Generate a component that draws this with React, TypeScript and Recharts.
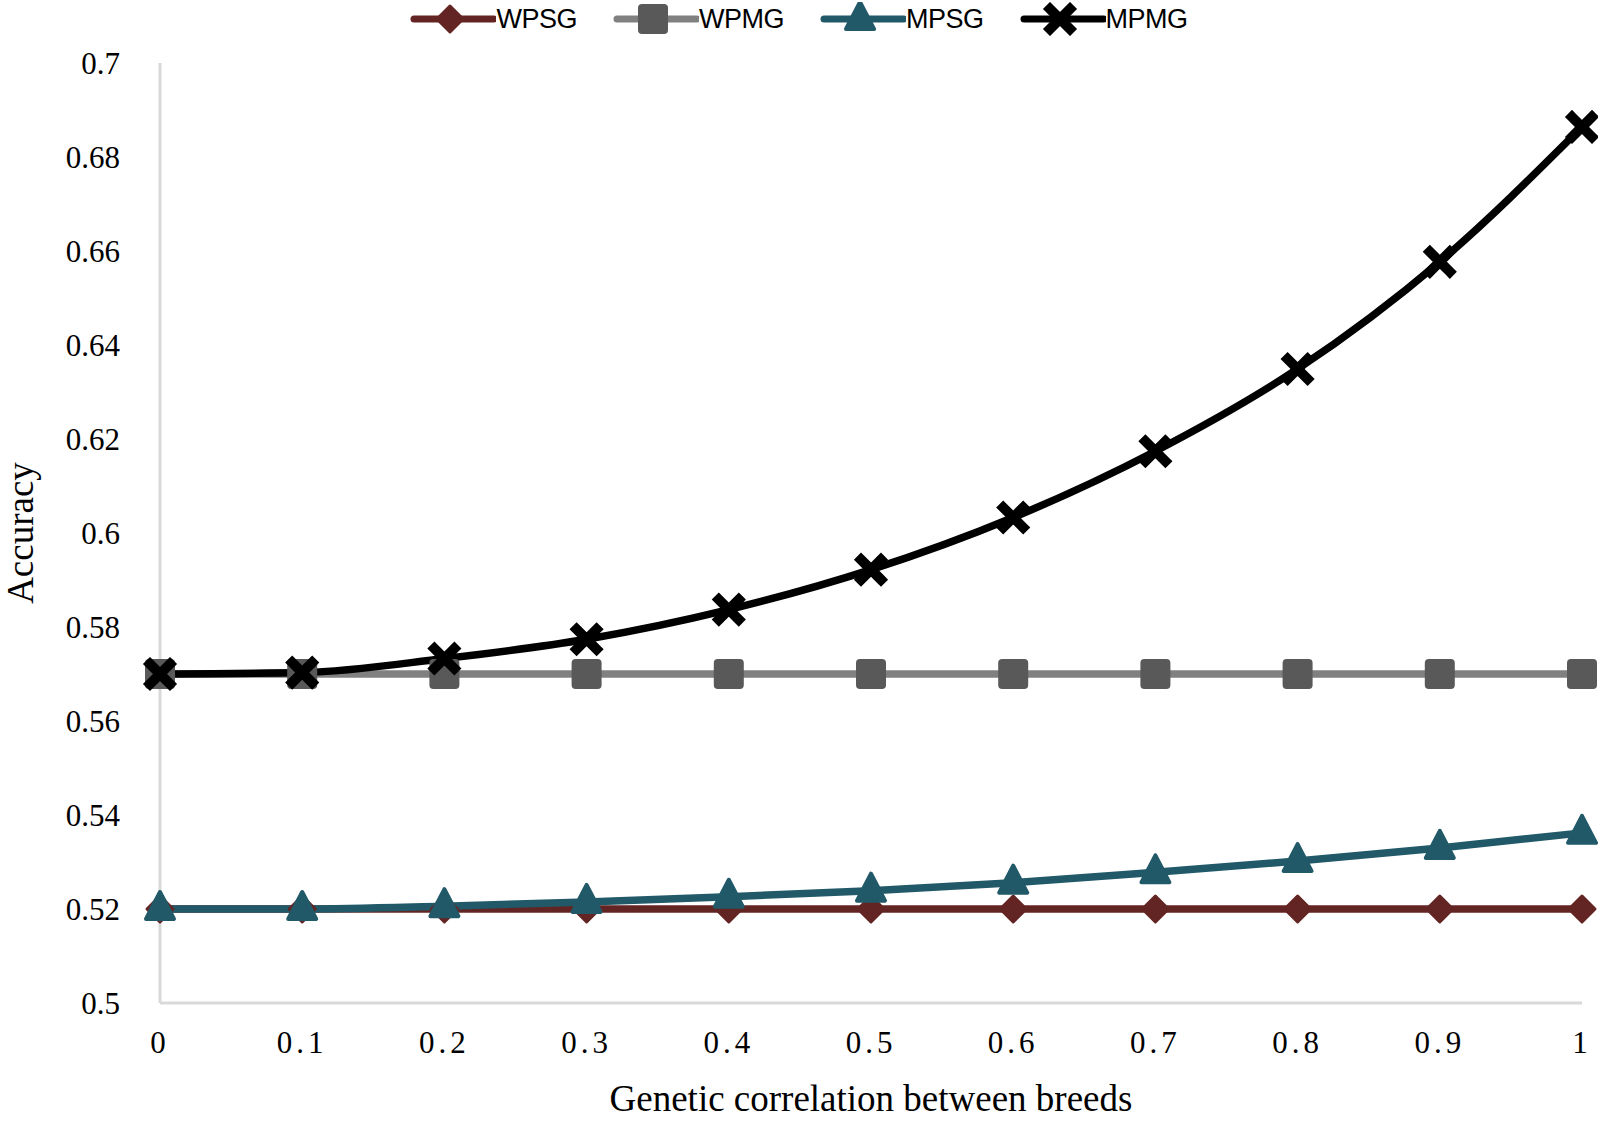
import React from 'react';
import { LineChart, Line, XAxis, YAxis, Legend } from 'recharts';

const correlation = [0, 0.1, 0.2, 0.3, 0.4, 0.5, 0.6, 0.7, 0.8, 0.9, 1];
const wpsg = [0.52, 0.52, 0.52, 0.52, 0.52, 0.52, 0.52, 0.52, 0.52, 0.52, 0.52];
const wpmg = [0.57, 0.57, 0.57, 0.57, 0.57, 0.57, 0.57, 0.57, 0.57, 0.57, 0.57];
const mpsg = [0.52, 0.52, 0.5206, 0.5215, 0.5226, 0.5239, 0.5256, 0.5278, 0.5302, 0.533, 0.5362];
const mpmg = [0.57, 0.5703, 0.5733, 0.5774, 0.5837, 0.5922, 0.6033, 0.6174, 0.6349, 0.6577, 0.6864];
const xTicks = [0, 0.1, 0.2, 0.3, 0.4, 0.5, 0.6, 0.7, 0.8, 0.9, 1];
const yTicks = [0.5, 0.52, 0.54, 0.56, 0.58, 0.6, 0.62, 0.64, 0.66, 0.68, 0.7];

const data = correlation.map((c, i) => ({
    c,
    WPSG: wpsg[i],
    WPMG: wpmg[i],
    MPSG: mpsg[i],
    MPMG: mpmg[i],
}));

const SERIF = '"Liberation Serif", "Times New Roman", serif';
const SANS = '"Liberation Sans", Arial, sans-serif';

type Shape = 'diamond' | 'square' | 'triangle' | 'cross';

const series: { key: string; line: string; marker: string; shape: Shape }[] = [
    { key: 'WPSG', line: '#632523', marker: '#632523', shape: 'diamond' },
    { key: 'WPMG', line: '#808080', marker: '#595959', shape: 'square' },
    { key: 'MPSG', line: '#215968', marker: '#215968', shape: 'triangle' },
    { key: 'MPMG', line: '#000000', marker: '#000000', shape: 'cross' },
];

const marker = (shape: Shape, color: string, cx: number, cy: number, key?: React.Key) => {
    if (shape === 'diamond') {
        return (
            <path key={key} d={`M${cx},${cy - 13}L${cx + 13},${cy}L${cx},${cy + 13}L${cx - 13},${cy}Z`}
                fill={color} stroke={color} strokeWidth={3} strokeLinejoin="round" />
        );
    }
    if (shape === 'square') {
        return <rect key={key} x={cx - 15} y={cy - 15} width={30} height={30} rx={4} fill={color} />;
    }
    if (shape === 'triangle') {
        return (
            <path key={key} d={`M${cx},${cy - 17}L${cx + 14},${cy + 10}L${cx - 14},${cy + 10}Z`}
                fill={color} stroke={color} strokeWidth={4} strokeLinejoin="round" />
        );
    }
    return (
        <path key={key} d={`M${cx - 10},${cy - 10}L${cx + 10},${cy + 10}M${cx + 10},${cy - 10}L${cx - 10},${cy + 10}`}
            stroke={color} strokeWidth={10} strokeLinecap="square" />
    );
};

const dotFor = (shape: Shape, color: string) => (props: any) => {
    const { cx, cy, index } = props;
    return marker(shape, color, cx, cy, index);
};

const fmt = (v: number) => String(Number(v.toFixed(2)));

const LegendContent = () => (
    <div style={{ display: 'flex', justifyContent: 'center', alignItems: 'center', gap: 36, fontFamily: SANS, fontSize: 27, color: '#000', height: 36 }}>
        {series.map(s => (
            <div key={s.key} style={{ display: 'flex', alignItems: 'center' }}>
                <svg width={86} height={34}>
                    <line x1={4} y1={17} x2={84} y2={17} stroke={s.line} strokeWidth={7} strokeLinecap="round" />
                    {marker(s.shape, s.marker, 40, 17)}
                </svg>
                <span style={{ marginLeft: 0, letterSpacing: -0.5 }}>{s.key}</span>
            </div>
        ))}
    </div>
);

export default function App() {
    return (
        <div style={{ position: 'absolute', left: 0, top: 0, width: 1598, height: 1124, background: '#fff' }}>
            <LineChart width={1598} height={1124} data={data} margin={{ top: 27, right: 16, bottom: 61, left: 40 }}>
                <Legend verticalAlign="top" content={<LegendContent />}
                    wrapperStyle={{ top: 1, left: 0, width: 1598 }} />
                <XAxis
                    dataKey="c"
                    type="number"
                    domain={[0, 1]}
                    ticks={xTicks}
                    tickFormatter={fmt}
                    axisLine={{ stroke: '#d9d9d9', strokeWidth: 3 }}
                    tickLine={false}
                    tickSize={0}
                    tickMargin={28}
                    height={60}
                    tick={{ fill: '#000', fontFamily: SERIF, fontSize: 31, letterSpacing: 4 }}
                    label={{ value: 'Genetic correlation between breeds', position: 'bottom', offset: 22, fill: '#000', fontFamily: SERIF, fontSize: 37 }}
                />
                <YAxis
                    type="number"
                    domain={[0.5, 0.7]}
                    ticks={yTicks}
                    tickFormatter={fmt}
                    axisLine={{ stroke: '#d9d9d9', strokeWidth: 3 }}
                    tickLine={false}
                    tickSize={0}
                    tickMargin={40}
                    width={120}
                    tick={{ fill: '#000', fontFamily: SERIF, fontSize: 31 }}
                    label={{ value: 'Accuracy', angle: -90, position: 'insideLeft', offset: -20, fill: '#000', fontFamily: SERIF, fontSize: 37, style: { textAnchor: 'middle' } }}
                />
                {series.map(s => (
                    <Line
                        key={s.key}
                        type="monotone"
                        dataKey={s.key}
                        stroke={s.line}
                        strokeWidth={7.5}
                        dot={dotFor(s.shape, s.marker)}
                        activeDot={false}
                        isAnimationActive={false}
                    />
                ))}
            </LineChart>
        </div>
    );
}
